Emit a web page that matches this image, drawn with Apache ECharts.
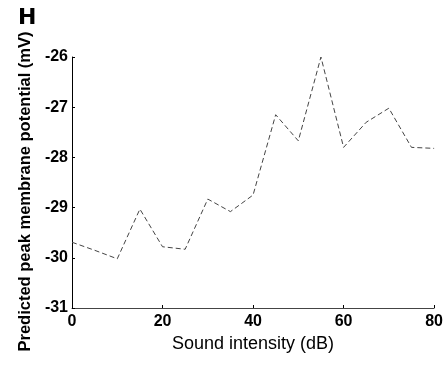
<!DOCTYPE html>
<html>
<head>
<meta charset="utf-8">
<script src="https://cdn.jsdelivr.net/npm/echarts@6/dist/echarts.min.js"></script>
<style>html,body{margin:0;padding:0;background:#fff;}#c{width:446px;height:368px;}</style>
</head>
<body>
<div id="c"></div>
<script>
const intensity = [0, 5, 10, 15, 20, 25, 30, 35, 40, 45, 50, 55, 60, 65, 70, 75, 80];
const potential = [-29.69, -29.85, -30.02, -29.03, -29.78, -29.83, -28.83, -29.08, -28.75, -27.15, -27.67, -26.0, -27.8, -27.3, -27.02, -27.8, -27.82];
const xTicks = [0, 20, 40, 60, 80];
const yTicks = [-31, -30, -29, -28, -27, -26];

const chart = echarts.init(document.getElementById('c'), null, {renderer: 'canvas'});
const font = '"Liberation Sans", Arial, sans-serif';
chart.setOption({
  animation: false,
  backgroundColor: '#fff',
  title: {
    text: 'H', left: 13, top: 2,
    textStyle: {fontFamily: '"DejaVu Sans", sans-serif', fontWeight: 'bold', fontSize: 22, color: '#000'}
  },
  grid: {left: 72, right: 9, top: 57, bottom: 60, containLabel: false},
  xAxis: {
    type: 'value', min: 0, max: 80, interval: 20,
    name: 'Sound intensity (dB)', nameLocation: 'middle', nameGap: 26,
    nameTextStyle: {fontFamily: font, fontSize: 18, color: '#000'},
    axisLine: {lineStyle: {color: '#444', width: 1}},
    axisTick: {inside: true, length: 3, lineStyle: {color: '#000'}},
    axisLabel: {fontFamily: font, fontWeight: 'bold', fontSize: 16, color: '#000', margin: 6,
      formatter: v => xTicks.includes(v) ? String(v) : ''},
    splitLine: {show: false}
  },
  yAxis: {
    type: 'value', min: -31, max: -26, interval: 1,
    name: 'Predicted peak membrane potential (mV)', nameLocation: 'middle', nameGap: 37,
    nameTextStyle: {fontFamily: font, fontWeight: 'bold', fontSize: 16.5, color: '#000', padding: [0, 18, 0, 0]},
    axisLine: {lineStyle: {color: '#000', width: 1}},
    axisTick: {inside: true, length: 3, lineStyle: {color: '#000'}},
    axisLabel: {fontFamily: font, fontWeight: 'bold', fontSize: 16, color: '#000', margin: 4,
      formatter: v => yTicks.includes(v) ? String(v) : ''},
    splitLine: {show: false}
  },
  series: [{
    type: 'line',
    data: intensity.map((x, i) => [x, potential[i]]),
    showSymbol: false,
    lineStyle: {color: '#444', width: 1, type: [5, 3]}
  }]
});
</script>
</body>
</html>
